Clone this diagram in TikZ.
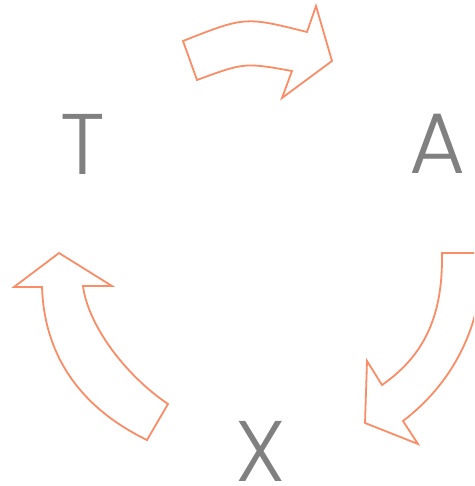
\documentclass[tikz,border=0pt]{standalone}
\usepackage{fontspec}
\newfontfamily\letterfont{Poppins Light}
\definecolor{lettergray}{RGB}{128,128,128}
\definecolor{arrowcoral}{RGB}{250,140,102}
\tikzset{
  letter/.style={inner sep=0pt, anchor=base, text=lettergray,
    font=\letterfont\fontsize{86}{86}\selectfont},
  hollowarrow/.style={draw=arrowcoral, line width=1.8pt, line join=miter, fill=white}
}
\begin{document}
\begin{tikzpicture}[x=1pt, y=-1pt]
  \useasboundingbox (0,0) rectangle (474,486);
  \clip (0,0) rectangle (474,486);

  % cycle letters
  \node[letter] (T) at (83,175) {T};
  \node[letter] (A) at (438,174) {A};
  \node[letter] (X) at (261,481) {X};

  % arrow T -> A
  \draw[hollowarrow] (183,41) .. controls (245,16.5) .. (307,32)
    -- (316,6) -- (332,61) -- (282,98) -- (292,71)
    .. controls (244.5,62.5) .. (197,80) -- cycle;

  % arrow A -> X
  \draw[hollowarrow] (442,253) -- (483,253)
    .. controls (483,330) and (450,385) .. (403,421)
    -- (418,444) -- (365,423) -- (367,361) -- (382,385)
    .. controls (425,355) and (443,315) .. (442,253) -- cycle;

  % arrow X -> T
  \draw[hollowarrow] (147,440)
    .. controls (75,405) and (44,350) .. (42,287)
    -- (14,287) -- (59,253) -- (112,286) -- (83,286)
    .. controls (88,325) and (125,375) .. (168,404) -- cycle;
\end{tikzpicture}
\end{document}
